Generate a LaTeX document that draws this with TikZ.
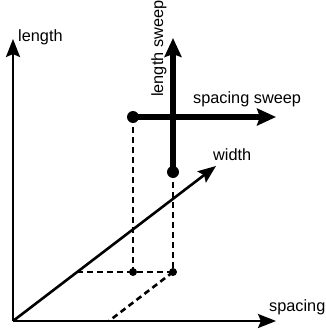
\documentclass[tikz,border=0pt]{standalone}
\usepackage{fontspec}
\setmainfont{Liberation Sans}
\usetikzlibrary{arrows.meta}
\begin{document}
\begin{tikzpicture}[x=1pt,y=-1pt,
  axis/.style={line width=2.6pt,-{Stealth[length=18pt,width=14pt,inset=3pt]}},
  sweep/.style={line width=6pt,-{Stealth[length=19pt,width=17pt,inset=3pt]}},
  guide/.style={line width=2.6pt,dash pattern=on 6pt off 4pt},
  lbl/.style={inner sep=0pt,font=\fontsize{16.3}{19}\selectfont},
  bigdot/.style={circle,fill=black,inner sep=0pt,minimum size=12pt},
  smalldot/.style={circle,fill=black,inner sep=0pt,minimum size=8pt}]
\useasboundingbox (0,0) rectangle (326,332);
\coordinate (O) at (13,321);
\coordinate (L) at (13,39);
\coordinate (S) at (276,321);
\coordinate (W) at (216,166);
\coordinate (HT) at (276,117);
\coordinate (VT) at (173,38);
\coordinate (R) at (77,272);
\coordinate (T) at (109,321);
% guides
\node[smalldot] (P) at (133,272) {};
\node[smalldot] (Q) at (173,272) {};
\coordinate (A0) at (133,117);
\coordinate (B0) at (173,172);
\draw[guide] (A0) -- (P.center);
\draw[guide] (B0) -- (Q.center);
\draw[guide] (R) -- (Q.center);
\draw[guide] (Q.center) -- (T);
% axes
\draw[axis] (O) -- (L);
\draw[axis] (O) -- (S);
\draw[axis] (O) -- (W);
% sweeps
\draw[sweep] (A0) -- (HT);
\draw[sweep] (B0) -- (VT);
\node[bigdot] (A) at (A0) {};
\node[bigdot] (B) at (B0) {};
% labels
\node[lbl,anchor=base west] (tl) at (18,41) {length};
\node[lbl,anchor=base west] (ts) at (269,311) {spacing};
\node[lbl,anchor=base west] (tw) at (213,160) {width};
\node[lbl,anchor=base west] (tss) at (193,103) {spacing sweep};
\node[lbl,anchor=base west,rotate=90] (tls) at (163,97) {length sweep};
\end{tikzpicture}
\end{document}
